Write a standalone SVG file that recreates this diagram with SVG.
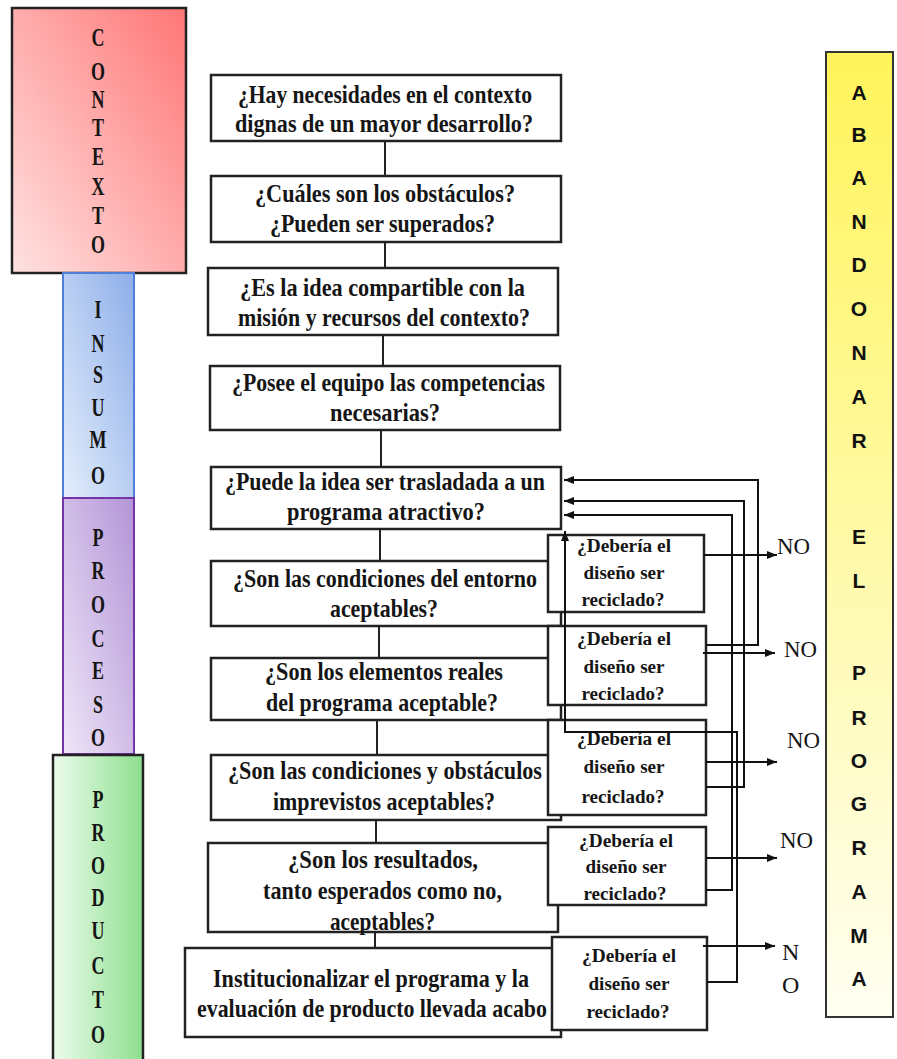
<svg xmlns="http://www.w3.org/2000/svg" width="897" height="1059" viewBox="0 0 897 1059">
  <defs>
    <linearGradient id="gCtx" x1="0" y1="1" x2="1" y2="0">
      <stop offset="0" stop-color="#ffe2e2"/>
      <stop offset="1" stop-color="#ff7676"/>
    </linearGradient>
    <linearGradient id="gIns" x1="0" y1="1" x2="1" y2="0">
      <stop offset="0" stop-color="#e4eefc"/>
      <stop offset="1" stop-color="#8daee9"/>
    </linearGradient>
    <linearGradient id="gPro" x1="0" y1="1" x2="1" y2="0">
      <stop offset="0" stop-color="#efe6f8"/>
      <stop offset="1" stop-color="#b394d7"/>
    </linearGradient>
    <linearGradient id="gPrd" x1="0" y1="0" x2="1" y2="0">
      <stop offset="0" stop-color="#ecfcec"/>
      <stop offset="1" stop-color="#8ddf8d"/>
    </linearGradient>
    <linearGradient id="gAba" x1="0" y1="0" x2="0" y2="1">
      <stop offset="0" stop-color="#fff45a"/>
      <stop offset="1" stop-color="#fffff2"/>
    </linearGradient>
    <marker id="arr" viewBox="0 0 10 8" markerWidth="10" markerHeight="8" markerUnits="userSpaceOnUse" refX="10" refY="4" orient="auto">
      <path d="M0,0 L10,4 L0,8 z" fill="#111"/>
    </marker>
  </defs>
  <style>
    .box { fill: #fff; stroke: #222; stroke-width: 2.5; }
    .q { font-family: "Liberation Serif", "Times New Roman", serif; font-weight: bold; font-size: 26px; fill: #151515; }
    .d { font-family: "Liberation Serif", "Times New Roman", serif; font-weight: bold; font-size: 18px; fill: #151515; text-anchor: middle; }
    .v { font-family: "Liberation Serif", "Times New Roman", serif; font-weight: bold; font-size: 25px; fill: #151515; text-anchor: middle; }
    .a { font-family: "Liberation Sans", Arial, sans-serif; font-weight: bold; font-size: 21px; fill: #111; text-anchor: middle; }
    .no { font-family: "Liberation Serif", "Times New Roman", serif; font-size: 24px; fill: #151515; }
    .ln { fill: none; stroke: #222; stroke-width: 2; }
    .ar { fill: none; stroke: #111; stroke-width: 2; marker-end: url(#arr); }
  </style>

  <rect width="897" height="1059" fill="#fff"/>

  <!-- phase bars on the left -->
  <g id="contexto">
    <rect x="12" y="8" width="174" height="265" fill="url(#gCtx)" stroke="#222" stroke-width="2.5"/>
    <g transform="translate(98,0) scale(0.72,1)">
      <text class="v" x="0" y="46">C</text>
      <text class="v" x="0" y="80">O</text>
      <text class="v" x="0" y="108">N</text>
      <text class="v" x="0" y="136">T</text>
      <text class="v" x="0" y="165">E</text>
      <text class="v" x="0" y="195">X</text>
      <text class="v" x="0" y="224">T</text>
      <text class="v" x="0" y="253">O</text>
    </g>
  </g>
  <g id="insumo">
    <rect x="63" y="273" width="71" height="225" fill="url(#gIns)" stroke="#4f7fd6" stroke-width="2"/>
    <g transform="translate(98,0) scale(0.72,1)">
      <text class="v" x="0" y="318">I</text>
      <text class="v" x="0" y="352">N</text>
      <text class="v" x="0" y="383">S</text>
      <text class="v" x="0" y="416">U</text>
      <text class="v" x="0" y="448">M</text>
      <text class="v" x="0" y="484">O</text>
    </g>
  </g>
  <g id="proceso">
    <rect x="63" y="498" width="71" height="256" fill="url(#gPro)" stroke="#7434a8" stroke-width="2"/>
    <g transform="translate(98,0) scale(0.72,1)">
      <text class="v" x="0" y="546">P</text>
      <text class="v" x="0" y="579">R</text>
      <text class="v" x="0" y="613">O</text>
      <text class="v" x="0" y="647">C</text>
      <text class="v" x="0" y="679">E</text>
      <text class="v" x="0" y="713">S</text>
      <text class="v" x="0" y="746">O</text>
    </g>
  </g>
  <g id="producto">
    <rect x="53" y="755" width="90" height="310" fill="url(#gPrd)" stroke="#222" stroke-width="2.5"/>
    <g transform="translate(98,0) scale(0.72,1)">
      <text class="v" x="0" y="808">P</text>
      <text class="v" x="0" y="841">R</text>
      <text class="v" x="0" y="874">O</text>
      <text class="v" x="0" y="906">D</text>
      <text class="v" x="0" y="939">U</text>
      <text class="v" x="0" y="974">C</text>
      <text class="v" x="0" y="1008">T</text>
      <text class="v" x="0" y="1043">O</text>
    </g>
  </g>

  <!-- abandon bar on the right -->
  <g id="abandonar">
    <rect x="826" y="52" width="67" height="965" fill="url(#gAba)" stroke="#333" stroke-width="2"/>
    <text class="a" x="859" y="100">A</text>
    <text class="a" x="859" y="142">B</text>
    <text class="a" x="859" y="185">A</text>
    <text class="a" x="859" y="229">N</text>
    <text class="a" x="859" y="272">D</text>
    <text class="a" x="859" y="316">O</text>
    <text class="a" x="859" y="360">N</text>
    <text class="a" x="859" y="404">A</text>
    <text class="a" x="859" y="448">R</text>
    <text class="a" x="859" y="544">E</text>
    <text class="a" x="859" y="588">L</text>
    <text class="a" x="859" y="680">P</text>
    <text class="a" x="859" y="725">R</text>
    <text class="a" x="859" y="768">O</text>
    <text class="a" x="859" y="811">G</text>
    <text class="a" x="859" y="855">R</text>
    <text class="a" x="859" y="899">A</text>
    <text class="a" x="859" y="943">M</text>
    <text class="a" x="859" y="986">A</text>
  </g>

  <!-- main question chain -->
  <g id="q1">
    <rect class="box" x="211" y="75" width="350" height="66"/>
    <text class="q" x="238" y="103" textLength="294" lengthAdjust="spacingAndGlyphs">¿Hay necesidades en el contexto</text>
    <text class="q" x="235" y="132" textLength="298" lengthAdjust="spacingAndGlyphs">dignas de un mayor desarrollo?</text>
  </g>
  <g id="q2">
    <rect class="box" x="211" y="176" width="350" height="66"/>
    <text class="q" x="255" y="202" textLength="260" lengthAdjust="spacingAndGlyphs">¿Cuáles son los obstáculos?</text>
    <text class="q" x="270" y="232" textLength="225" lengthAdjust="spacingAndGlyphs">¿Pueden  ser superados?</text>
  </g>
  <g id="q3">
    <rect class="box" x="208" y="268" width="350" height="67"/>
    <text class="q" x="240" y="296" textLength="285" lengthAdjust="spacingAndGlyphs">¿Es la idea compartible con la</text>
    <text class="q" x="238" y="326" textLength="292" lengthAdjust="spacingAndGlyphs">misión y recursos del contexto?</text>
  </g>
  <g id="q4">
    <rect class="box" x="210" y="366" width="350" height="64"/>
    <text class="q" x="232" y="391" textLength="313" lengthAdjust="spacingAndGlyphs">¿Posee el equipo las competencias</text>
    <text class="q" x="330" y="421" textLength="110" lengthAdjust="spacingAndGlyphs">necesarias?</text>
  </g>
  <g id="q5">
    <rect class="box" x="211" y="467" width="350" height="62"/>
    <text class="q" x="225" y="490" textLength="320" lengthAdjust="spacingAndGlyphs">¿Puede la idea ser trasladada a un</text>
    <text class="q" x="287" y="520" textLength="198" lengthAdjust="spacingAndGlyphs">programa atractivo?</text>
  </g>
  <g id="q6">
    <rect class="box" x="211" y="561" width="350" height="65"/>
    <text class="q" transform="scale(0.8 1)" x="291.25" y="587" textLength="380" lengthAdjust="spacingAndGlyphs">¿Son las condiciones del entorno</text>
    <text class="q" x="330" y="617" textLength="108" lengthAdjust="spacingAndGlyphs">aceptables?</text>
  </g>
  <g id="q7">
    <rect class="box" x="211" y="658" width="350" height="62"/>
    <text class="q" x="265" y="680" textLength="238" lengthAdjust="spacingAndGlyphs">¿Son los elementos reales</text>
    <text class="q" x="266" y="711" textLength="232" lengthAdjust="spacingAndGlyphs">del programa aceptable?</text>
  </g>
  <g id="q8">
    <rect class="box" x="211" y="755" width="350" height="65"/>
    <text class="q" transform="scale(0.8 1)" x="285" y="779" textLength="392.5" lengthAdjust="spacingAndGlyphs">¿Son las condiciones y obstáculos</text>
    <text class="q" x="273" y="810" textLength="222" lengthAdjust="spacingAndGlyphs">imprevistos aceptables?</text>
  </g>
  <g id="q9">
    <rect class="box" x="208" y="843" width="350" height="89"/>
    <text class="q" x="288" y="868" textLength="190" lengthAdjust="spacingAndGlyphs">¿Son los resultados,</text>
    <text class="q" x="263" y="899" textLength="239" lengthAdjust="spacingAndGlyphs">tanto esperados como no,</text>
    <text class="q" x="330" y="930" textLength="105" lengthAdjust="spacingAndGlyphs">aceptables?</text>
  </g>
  <g id="q10">
    <rect class="box" x="185" y="948" width="376" height="89"/>
    <text class="q" x="213" y="987" textLength="316" lengthAdjust="spacingAndGlyphs">Institucionalizar el programa y la</text>
    <text class="q" transform="scale(0.8 1)" x="246.25" y="1017" textLength="437.5" lengthAdjust="spacingAndGlyphs">evaluación de producto llevada acabo</text>
  </g>

  <!-- recycle-design questions -->
  <g id="r1">
    <rect class="box" x="548" y="535" width="156" height="77"/>
    <text class="d" x="624" y="552" textLength="94" lengthAdjust="spacingAndGlyphs">¿Debería el</text>
    <text class="d" x="624" y="579" textLength="81" lengthAdjust="spacingAndGlyphs">diseño ser</text>
    <text class="d" x="623" y="606" textLength="83" lengthAdjust="spacingAndGlyphs">reciclado?</text>
  </g>
  <g id="r2">
    <rect class="box" x="548" y="626" width="158" height="79"/>
    <text class="d" x="624" y="645" textLength="94" lengthAdjust="spacingAndGlyphs">¿Debería el</text>
    <text class="d" x="624" y="673" textLength="81" lengthAdjust="spacingAndGlyphs">diseño ser</text>
    <text class="d" x="623" y="700" textLength="83" lengthAdjust="spacingAndGlyphs">reciclado?</text>
  </g>
  <g id="r3">
    <rect class="box" x="548" y="720" width="158" height="95"/>
    <text class="d" x="624" y="745" textLength="94" lengthAdjust="spacingAndGlyphs">¿Debería el</text>
    <text class="d" x="624" y="773" textLength="81" lengthAdjust="spacingAndGlyphs">diseño ser</text>
    <text class="d" x="623" y="803" textLength="83" lengthAdjust="spacingAndGlyphs">reciclado?</text>
  </g>
  <g id="r4">
    <rect class="box" x="548" y="827" width="158" height="78"/>
    <text class="d" x="626" y="847" textLength="94" lengthAdjust="spacingAndGlyphs">¿Debería el</text>
    <text class="d" x="626" y="873" textLength="81" lengthAdjust="spacingAndGlyphs">diseño ser</text>
    <text class="d" x="625" y="900" textLength="83" lengthAdjust="spacingAndGlyphs">reciclado?</text>
  </g>
  <g id="r5">
    <rect class="box" x="552" y="937" width="155" height="93"/>
    <text class="d" x="629" y="962" textLength="94" lengthAdjust="spacingAndGlyphs">¿Debería el</text>
    <text class="d" x="629" y="990" textLength="81" lengthAdjust="spacingAndGlyphs">diseño ser</text>
    <text class="d" x="628" y="1018" textLength="83" lengthAdjust="spacingAndGlyphs">reciclado?</text>
  </g>

  <!-- NO labels -->
  <g id="no-labels">
    <text class="no" x="777" y="554" textLength="33" lengthAdjust="spacingAndGlyphs">NO</text>
    <text class="no" x="784" y="657" textLength="33" lengthAdjust="spacingAndGlyphs">NO</text>
    <text class="no" x="787" y="748" textLength="33" lengthAdjust="spacingAndGlyphs">NO</text>
    <text class="no" x="780" y="848" textLength="33" lengthAdjust="spacingAndGlyphs">NO</text>
    <text class="no" x="782" y="960">N</text>
    <text class="no" x="782" y="993">O</text>
  </g>

  <!-- connectors -->
  <g id="connectors">
    <line class="ln" x1="385" y1="141" x2="385" y2="176"/>
    <line class="ln" x1="385" y1="242" x2="385" y2="268"/>
    <line class="ln" x1="383" y1="335" x2="383" y2="366"/>
    <line class="ln" x1="381" y1="430" x2="381" y2="467"/>
    <line class="ln" x1="380" y1="529" x2="380" y2="561"/>
    <line class="ln" x1="379" y1="626" x2="379" y2="658"/>
    <line class="ln" x1="377" y1="720" x2="377" y2="755"/>
    <line class="ln" x1="376" y1="820" x2="376" y2="843"/>
    <line class="ln" x1="375" y1="932" x2="375" y2="948"/>

    <!-- loops back to the program design step -->
    <polyline class="ar" points="706,645 758,645 758,480 564,480"/>
    <polyline class="ar" points="706,787 744,787 744,501 564,501"/>
    <polyline class="ar" points="706,890 732,890 732,515 564,515"/>
    <polyline class="ar" points="707,982 737,982 737,732 565,732 565,531"/>

    <!-- exits to abandon -->
    <line class="ar" x1="704" y1="555" x2="777" y2="555"/>
    <line class="ar" x1="703" y1="653" x2="775" y2="653"/>
    <line class="ar" x1="706" y1="762" x2="777" y2="762"/>
    <line class="ar" x1="706" y1="858" x2="777" y2="858"/>
    <line class="ar" x1="703" y1="946" x2="775" y2="946"/>
  </g>
</svg>
